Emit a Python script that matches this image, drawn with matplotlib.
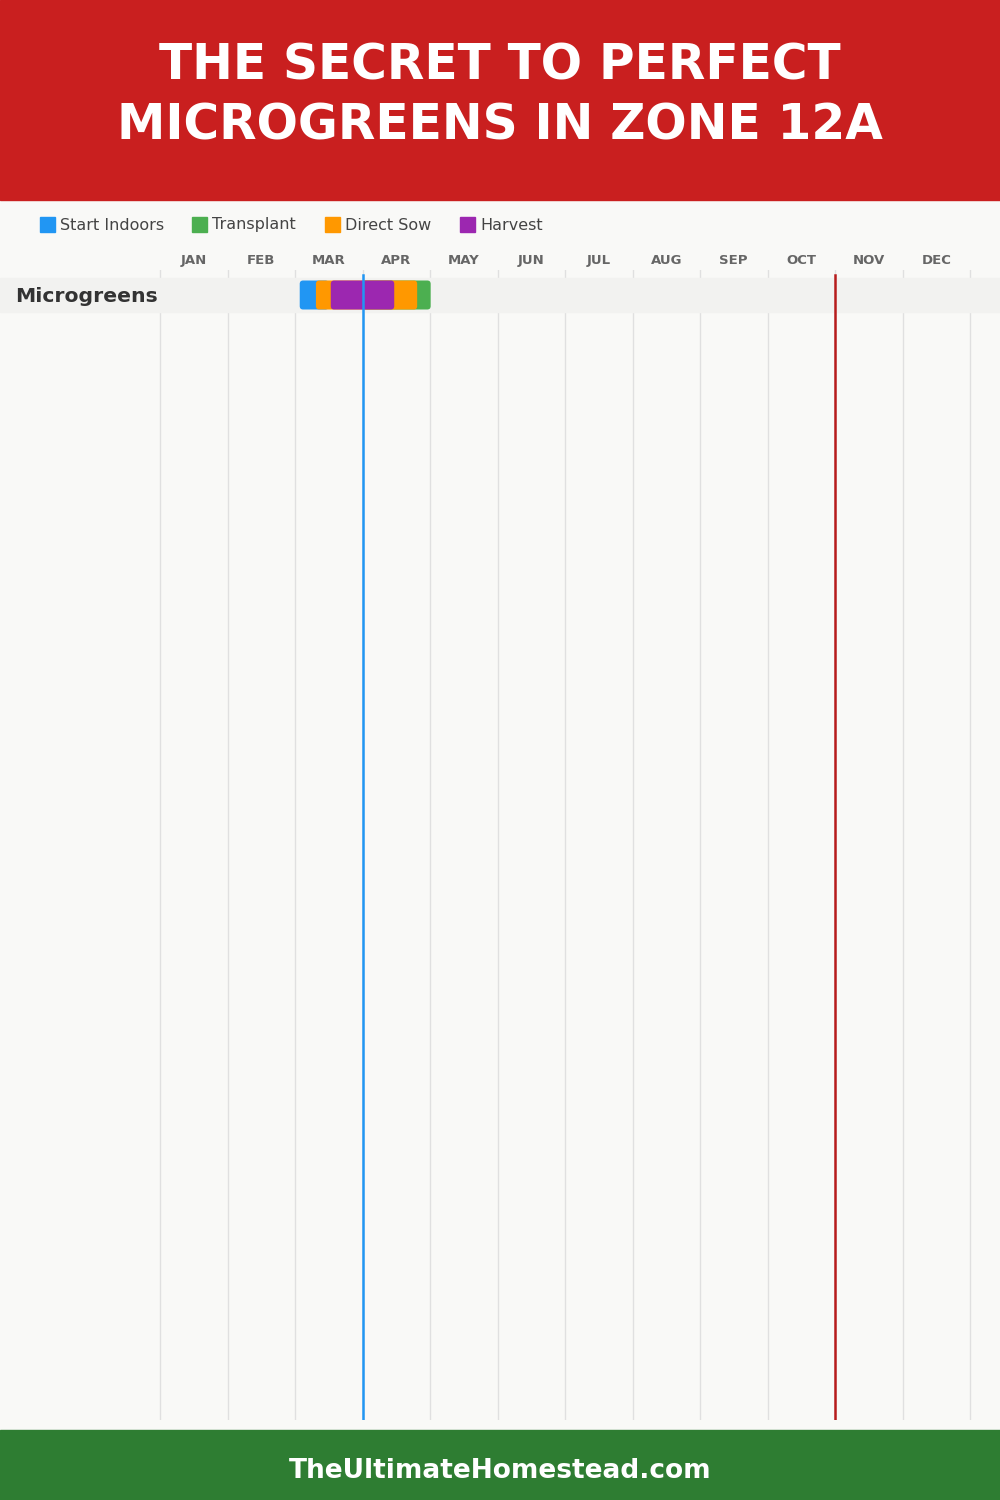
import matplotlib
matplotlib.use("Agg")
import matplotlib.pyplot as plt
from matplotlib.patches import Rectangle, FancyBboxPatch

W, H = 1000, 1500

title_lines = ["THE SECRET TO PERFECT", "MICROGREENS IN ZONE 12A"]
footer = "TheUltimateHomestead.com"
months = ["JAN", "FEB", "MAR", "APR", "MAY", "JUN",
          "JUL", "AUG", "SEP", "OCT", "NOV", "DEC"]
crops = ["Microgreens"]

# legend entries, drawn in this order
stages = ["Start Indoors", "Transplant", "Direct Sow", "Harvest"]
stage_colors = ["#2196F3", "#4CAF50", "#FF9800", "#9C27B0"]
# (start, end) in months from Jan 1, one per stage
spans = [(2.07, 2.5), (3.0, 4.01), (2.31, 3.81), (2.53, 3.47)]

today = 3.0        # blue marker
frost = 10.0       # red marker

bg = "#f9f9f7"
fig = plt.figure(figsize=(W / 100, H / 100), dpi=100, facecolor=bg)


def fx(px):
    return px / W


def fy(py):
    return 1 - py / H


# header and footer bands
fig.patches.append(Rectangle((0, fy(200)), 1, 200 / H, transform=fig.transFigure,
                             color="#c91f1f", zorder=0))
fig.patches.append(Rectangle((0, 0), 1, 70 / H, transform=fig.transFigure,
                             color="#2e7d32", zorder=0))
for i, line in enumerate(title_lines):
    fig.text(0.5, fy(66 + 60 * i), line, ha="center", va="center", color="white",
             fontsize=35, fontweight="heavy", family="DejaVu Sans")
fig.text(0.5, fy(1471), footer, ha="center", va="center", color="white",
         fontsize=19, fontweight="bold")

# legend
leg_x = [40, 192, 325, 460]
for x, name, c in zip(leg_x, stages, stage_colors):
    fig.patches.append(Rectangle((fx(x), fy(232)), 15 / W, 15 / H,
                                 transform=fig.transFigure, color=c))
    fig.text(fx(x + 20), fy(225), name, ha="left", va="center",
             color="#444444", fontsize=11.5)

# chart axes: x in months, y in rows
top, bottom = 270, 1420
ax = fig.add_axes([0, fy(bottom), 1, (bottom - top) / H])
ax.set_facecolor(bg)
mpx = 67.5
ax.set_xlim(-160 / mpx, 840 / mpx)
rowpx = 34
ax.set_ylim((bottom - 278) / rowpx - 0.5, -0.5 - 8 / rowpx)
for s in ax.spines.values():
    s.set_visible(False)

for m in range(13):
    ax.axvline(m, color="#e0e0e0", lw=1, zorder=1)

ax.xaxis.tick_top()
ax.set_xticks([m + 0.5 for m in range(12)])
ax.set_xticklabels(months, fontsize=9.5, fontweight="bold", color="#666666")
ax.tick_params(axis="x", length=0, pad=2.5)
ax.set_yticks([])

for r, crop in enumerate(crops):
    ax.add_patch(Rectangle((ax.get_xlim()[0], r - 0.5), 20, 1, color="#f2f2f0", zorder=2))
    ax.text(-160 / mpx + 15 / mpx, r + 0.05, crop, ha="left", va="center",
            fontsize=14.7, fontweight="bold", color="#333333", zorder=5)
    bh = 29 / rowpx
    for (a, b), c in zip(spans, stage_colors):
        ax.add_patch(FancyBboxPatch((a, r - bh / 2), b - a, bh,
                                    boxstyle="round,pad=0,rounding_size=0.05",
                                    mutation_aspect=mpx / rowpx,
                                    fc=c, ec="none", zorder=3))

frac = 1 - 5 / (bottom - top)
ax.axvline(today, ymin=0, ymax=frac, color="#2196F3", lw=1.8, zorder=4)
ax.axvline(frost, ymin=0, ymax=frac, color="#b71c1c", lw=1.8, zorder=4)

fig.savefig("out.png", dpi=100, facecolor=bg)
